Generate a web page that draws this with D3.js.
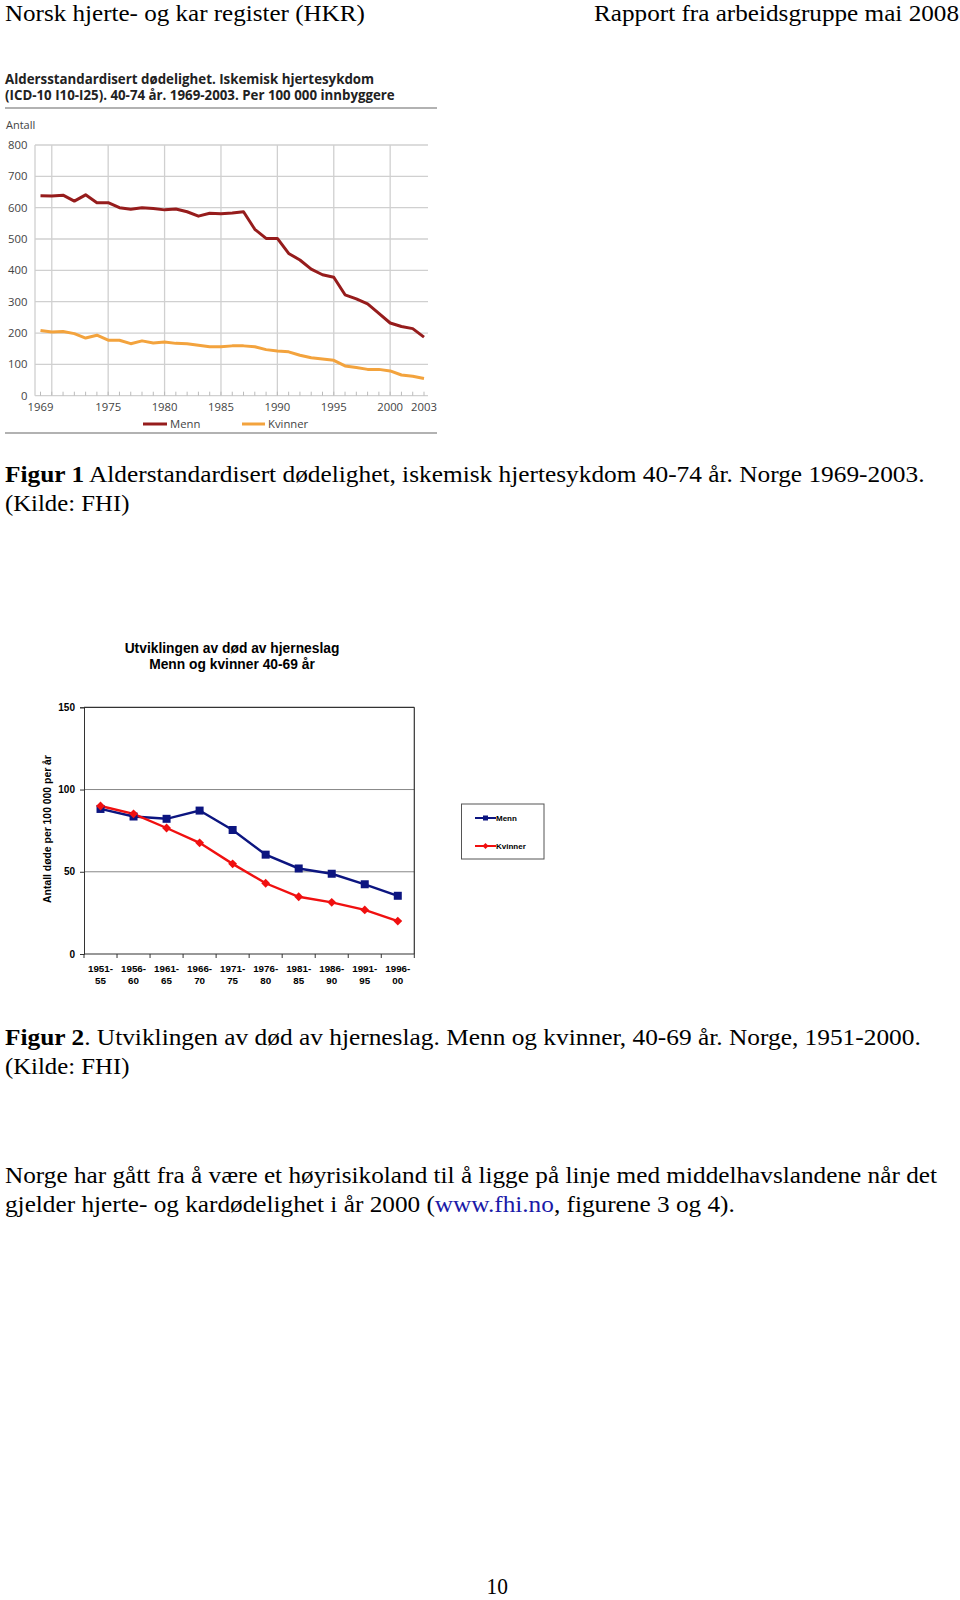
<!DOCTYPE html>
<html><head><meta charset="utf-8">
<script src="https://cdn.jsdelivr.net/npm/d3@7"></script>
<style>body{margin:0;background:#fff}svg{display:block}</style>
</head><body>
<script>
// ---- Data: Figur 1 ----
const years1 = d3.range(1969, 2004);
const menn1 = [638,637,640,621,641,616,616,600,595,600,597,593,596,587,573,582,581,583,587,531,502,502,454,433,404,386,378,322,309,293,263,232,221,214,187];
const kvinner1 = [208,203,205,198,184,193,177,177,166,175,168,171,167,166,161,156,156,159,159,156,147,143,140,129,121,117,113,95,90,84,84,79,66,62,55];
const yTicks1 = [0,100,200,300,400,500,600,700,800];
const xLabels1 = [1969,1975,1980,1985,1990,1995,2000,2003];
const xGrid1 = [1970,1975,1980,1985,1990,1995,2000];

// ---- Data: Figur 2 ----
const periods2 = [["1951-","55"],["1956-","60"],["1961-","65"],["1966-","70"],["1971-","75"],["1976-","80"],["1981-","85"],["1986-","90"],["1991-","95"],["1996-","00"]];
const menn2 = [88.2,83.6,82.2,87.2,75.4,60.4,52,48.8,42.4,35.4];
const kvinner2 = [90,85.2,76.6,67.6,54.8,43,34.8,31.4,26.8,20];
const yTicks2 = [0,50,100,150];

const svg = d3.select("body").append("svg").attr("width",960).attr("height",1600);
svg.append("rect").attr("width",960).attr("height",1600).attr("fill","#fff");

const serif = "'Liberation Serif','Times New Roman',serif";
const FS = 24;
// stretch a text element horizontally so it spans a target width (anchor point ax)
function fit(t, ax, target){
  const len = t.node().getComputedTextLength();
  const s = target/len;
  t.attr("transform",`translate(${ax},0) scale(${s},1) translate(${-ax},0)`);
  return t;
}
function serifText(x,y,anchor,fs){
  return svg.append("text").attr("x",x).attr("y",y).attr("text-anchor",anchor||"start").attr("font-family",serif).attr("font-size",fs||FS);
}
// header
fit(serifText(5,21.5,"start",23).text("Norsk hjerte- og kar register (HKR)"),5,360);
fit(serifText(959,21.5,"end",23).text("Rapport fra arbeidsgruppe mai 2008"),959,365);

// ---- Chart 1 ----
const sans1 = "'Open Sans','Noto Sans',sans-serif";
const g1 = svg.append("g");
const x1 = d3.scaleLinear().domain([1969,2003]).range([40.5,424]);
const y1 = d3.scaleLinear().domain([0,800]).range([395.7,145]);
g1.append("text").attr("x",5).attr("y",84).attr("font-family",sans1).attr("font-weight","bold").attr("font-size",13.3).attr("fill","#222").text("Aldersstandardisert dødelighet. Iskemisk hjertesykdom");
g1.append("text").attr("x",5).attr("y",100).attr("font-family",sans1).attr("font-weight","bold").attr("font-size",13.3).attr("fill","#222").text("(ICD-10 I10-I25). 40-74 år. 1969-2003. Per 100 000 innbyggere");
g1.append("line").attr("x1",5).attr("x2",437).attr("y1",108).attr("y2",108).attr("stroke","#999").attr("stroke-width",1.6);
g1.append("line").attr("x1",5).attr("x2",437).attr("y1",433).attr("y2",433).attr("stroke","#999").attr("stroke-width",1.6);
g1.append("text").attr("x",6).attr("y",129).attr("font-family",sans1).attr("font-size",11).attr("fill","#444").text("Antall");
// horizontal grid
g1.selectAll(".hg").data(yTicks1).join("line")
  .attr("x1",35).attr("x2",428).attr("y1",d=>y1(d)).attr("y2",d=>y1(d))
  .attr("stroke","#d0d0d0").attr("stroke-width",1.3);
// vertical grid
g1.selectAll(".vg").data(xGrid1).join("line")
  .attr("x1",d=>x1(d)).attr("x2",d=>x1(d)).attr("y1",y1(800)).attr("y2",y1(0))
  .attr("stroke","#d0d0d0").attr("stroke-width",1.3);
g1.append("line").attr("x1",35).attr("x2",35).attr("y1",y1(800)).attr("y2",y1(0)).attr("stroke","#d0d0d0").attr("stroke-width",1.3);
// year ticks
g1.selectAll(".yt").data(years1).join("line")
  .attr("x1",d=>x1(d)).attr("x2",d=>x1(d)).attr("y1",y1(0)-4).attr("y2",y1(0))
  .attr("stroke","#bbb").attr("stroke-width",1);
// y labels
g1.selectAll(".yl").data(yTicks1).join("text")
  .attr("x",d=>d===0?21:8).attr("y",d=>y1(d)+4).attr("font-family",sans1).attr("font-size",11.3).attr("fill","#444").text(d=>d);
// x labels
g1.selectAll(".xl").data(xLabels1).join("text")
  .attr("x",d=>x1(d)).attr("y",410.5).attr("text-anchor","middle").attr("font-family",sans1).attr("font-size",11.3).attr("fill","#444").text(d=>d);
const line1 = d3.line().x((d,i)=>x1(years1[i])).y(d=>y1(d));
g1.append("path").datum(kvinner1).attr("d",line1).attr("fill","none").attr("stroke","#f3a33d").attr("stroke-width",3).attr("stroke-linejoin","round");
g1.append("path").datum(menn1).attr("d",line1).attr("fill","none").attr("stroke","#961c1c").attr("stroke-width",3).attr("stroke-linejoin","round");
// legend
g1.append("line").attr("x1",143).attr("x2",167).attr("y1",424).attr("y2",424).attr("stroke","#961c1c").attr("stroke-width",3);
g1.append("text").attr("x",170).attr("y",428).attr("font-family",sans1).attr("font-size",11.3).attr("fill","#444").text("Menn");
g1.append("line").attr("x1",242).attr("x2",265).attr("y1",424).attr("y2",424).attr("stroke","#f3a33d").attr("stroke-width",3);
g1.append("text").attr("x",268).attr("y",428).attr("font-family",sans1).attr("font-size",11.3).attr("fill","#444").text("Kvinner");

// caption 1
const cap1 = serifText(5,482);
cap1.append("tspan").attr("font-weight","bold").text("Figur 1");
cap1.append("tspan").text(" Alderstandardisert dødelighet, iskemisk hjertesykdom 40-74 år. Norge 1969-2003.");
fit(cap1,5,920);
fit(serifText(5,511).text("(Kilde: FHI)"),5,124.5);

// ---- Chart 2 ----
const arial = "'Liberation Sans',Arial,sans-serif";
const g2 = svg.append("g");
const x2 = d3.scaleBand().domain(periods2.map(d=>d[0]+d[1])).range([84,414.3]);
const y2 = d3.scaleLinear().domain([0,150]).range([954,707.3]);
g2.append("text").attr("x",232).attr("y",653).attr("text-anchor","middle").attr("font-family",arial).attr("font-weight","bold").attr("font-size",13.8).text("Utviklingen av død av hjerneslag");
g2.append("text").attr("x",232).attr("y",669).attr("text-anchor","middle").attr("font-family",arial).attr("font-weight","bold").attr("font-size",13.8).text("Menn og kvinner 40-69 år");
// grid lines
g2.selectAll(".g2h").data([50,100]).join("line")
  .attr("x1",84).attr("x2",414.3).attr("y1",d=>y2(d)).attr("y2",d=>y2(d)).attr("stroke","#888").attr("stroke-width",1);
// frame top/right
g2.append("line").attr("x1",84).attr("x2",414.3).attr("y1",y2(150)).attr("y2",y2(150)).attr("stroke","#333").attr("stroke-width",1.2);
g2.append("line").attr("x1",414.3).attr("x2",414.3).attr("y1",y2(150)).attr("y2",y2(0)).attr("stroke","#333").attr("stroke-width",1.2);
// axes
const yAx2 = g2.append("g").attr("transform","translate(84,0)").call(d3.axisLeft(y2).tickValues(yTicks2).tickSize(4).tickPadding(5));
yAx2.select(".domain").attr("stroke","#333");
yAx2.selectAll("line").attr("stroke","#333");
yAx2.selectAll("text").attr("font-family",arial).attr("font-weight","bold").attr("font-size",10).attr("fill","#000");
g2.append("line").attr("x1",84).attr("x2",414.3).attr("y1",y2(0)).attr("y2",y2(0)).attr("stroke","#333").attr("stroke-width",1.2);
const bounds = x2.domain().map(d=>x2(d)).concat([414.3]);
g2.selectAll(".xt").data(bounds).join("line")
  .attr("x1",d=>d).attr("x2",d=>d).attr("y1",y2(0)).attr("y2",y2(0)+4).attr("stroke","#333");
const xl = g2.selectAll(".xl2").data(periods2).join("text")
  .attr("text-anchor","middle").attr("font-family",arial).attr("font-weight","bold").attr("font-size",9.8);
xl.append("tspan").attr("x",d=>x2(d[0]+d[1])+x2.bandwidth()/2).attr("y",972).text(d=>d[0]);
xl.append("tspan").attr("x",d=>x2(d[0]+d[1])+x2.bandwidth()/2).attr("y",984).text(d=>d[1]);
g2.append("text").attr("transform","translate(51,829) rotate(-90)").attr("text-anchor","middle")
  .attr("font-family",arial).attr("font-weight","bold").attr("font-size",10.4).text("Antall døde per 100 000 per år");
const cx = (d,i)=>x2(periods2[i][0]+periods2[i][1])+x2.bandwidth()/2;
const line2 = d3.line().x(cx).y(d=>y2(d));
g2.append("path").datum(menn2).attr("d",line2).attr("fill","none").attr("stroke","#0c1580").attr("stroke-width",2.4);
g2.append("path").datum(kvinner2).attr("d",line2).attr("fill","none").attr("stroke","#f01010").attr("stroke-width",2.4);
g2.selectAll(".sq").data(menn2).join("rect")
  .attr("x",(d,i)=>cx(d,i)-4).attr("y",d=>y2(d)-4).attr("width",8).attr("height",8).attr("fill","#0c1580");
g2.selectAll(".dm").data(kvinner2).join("path")
  .attr("d",d3.symbol(d3.symbolDiamond2,50)).attr("transform",(d,i)=>`translate(${cx(d,i)},${y2(d)})`).attr("fill","#f01010");
// legend
g2.append("rect").attr("x",461.5).attr("y",804).attr("width",82.5).attr("height",55).attr("fill","#fff").attr("stroke","#555").attr("stroke-width",1);
g2.append("line").attr("x1",475).attr("x2",496).attr("y1",818).attr("y2",818).attr("stroke","#0c1580").attr("stroke-width",2);
g2.append("rect").attr("x",483).attr("y",815.5).attr("width",5).attr("height",5).attr("fill","#0c1580");
g2.append("text").attr("x",496).attr("y",821).attr("font-family",arial).attr("font-weight","bold").attr("font-size",8).text("Menn");
g2.append("line").attr("x1",475).attr("x2",496).attr("y1",846).attr("y2",846).attr("stroke","#f01010").attr("stroke-width",2);
g2.append("path").attr("d",d3.symbol(d3.symbolDiamond2,24)).attr("transform","translate(485.5,846)").attr("fill","#f01010");
g2.append("text").attr("x",496).attr("y",849).attr("font-family",arial).attr("font-weight","bold").attr("font-size",8).text("Kvinner");

// caption 2
const cap2 = serifText(5,1045);
cap2.append("tspan").attr("font-weight","bold").text("Figur 2");
cap2.append("tspan").text(". Utviklingen av død av hjerneslag. Menn og kvinner, 40-69 år. Norge, 1951-2000.");
fit(cap2,5,916);
fit(serifText(5,1074).text("(Kilde: FHI)"),5,124.5);

// paragraph
fit(serifText(5,1183).text("Norge har gått fra å være et høyrisikoland til å ligge på linje med middelhavslandene når det"),5,932.5);
const p2 = serifText(5,1212);
p2.append("tspan").text("gjelder hjerte- og kardødelighet i år 2000 (");
p2.append("tspan").attr("fill","#1a1aa8").text("www.fhi.no");
p2.append("tspan").text(", figurene 3 og 4).");
fit(p2,5,730.5);

fit(serifText(486.6,1594).text("10"),486.6,21.4);
</script>
</body></html>
